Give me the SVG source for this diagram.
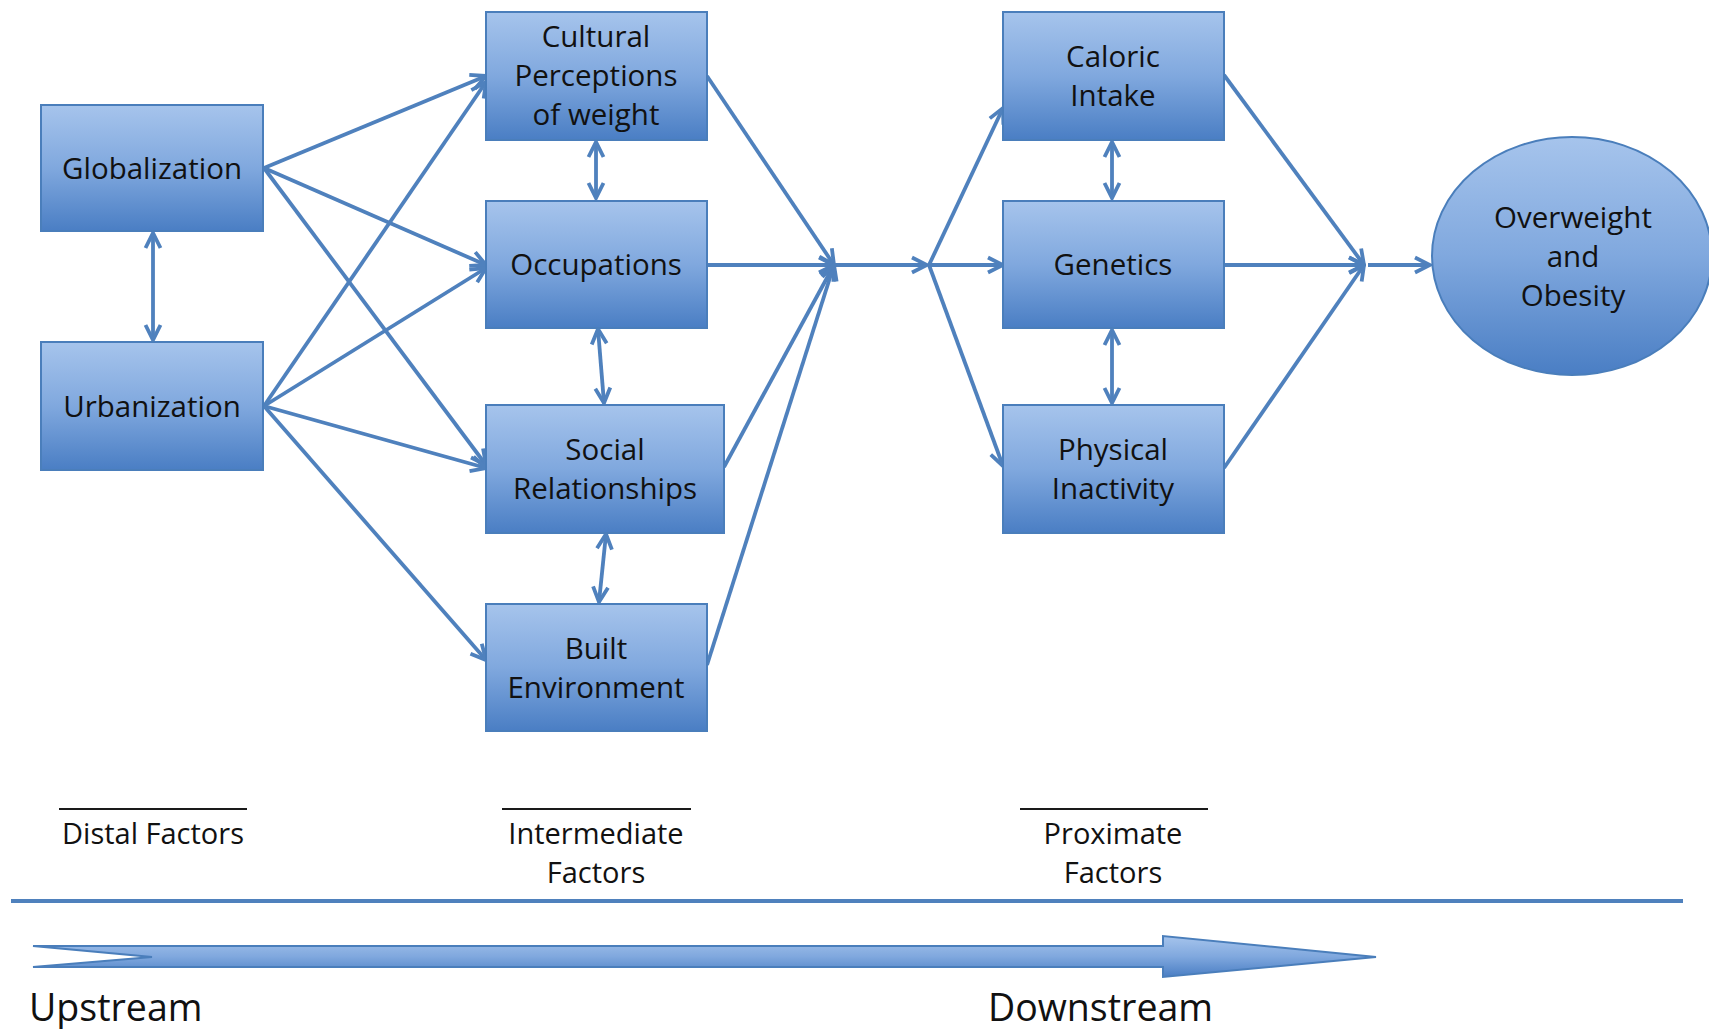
<svg xmlns="http://www.w3.org/2000/svg" width="1709" height="1029" viewBox="0 0 1709 1029">
<defs>
<linearGradient id="g" x1="0" y1="0" x2="0" y2="1">
<stop offset="0" stop-color="#a6c4ec"/>
<stop offset="0.5" stop-color="#80a8de"/>
<stop offset="1" stop-color="#4a7ec4"/>
</linearGradient>
<marker id="ah" viewBox="0 0 20 20" refX="18" refY="10" markerWidth="20" markerHeight="20" markerUnits="userSpaceOnUse" orient="auto-start-reverse">
<path d="M3,2.5 L18,10 L3,17.5" fill="none" stroke="#4f81bd" stroke-width="3.8"/>
</marker>
<style>
.box{fill:url(#g);stroke:#4a7ebb;stroke-width:2}
.t{font-family:"Open Sans","DejaVu Sans",sans-serif;font-size:29.5px;fill:#111;text-anchor:middle}
.lbl{font-family:"Open Sans","DejaVu Sans",sans-serif;font-size:29px;fill:#111;text-anchor:middle}
.big{font-family:"Open Sans","DejaVu Sans",sans-serif;font-size:37.5px;fill:#111}
.c{fill:none;stroke:#4f81bd;stroke-width:3.8;marker-end:url(#ah)}
.d{fill:none;stroke:#4f81bd;stroke-width:3.8;marker-end:url(#ah);marker-start:url(#ah)}
</style>
</defs>
<rect width="1709" height="1029" fill="#fff"/>

<g id="connectors">
<line class="d" x1="153" y1="233" x2="153" y2="340"/>
<line class="c" x1="264" y1="168" x2="486" y2="76"/>
<line class="c" x1="264" y1="168" x2="486" y2="265"/>
<line class="c" x1="264" y1="168" x2="486" y2="465"/>
<line class="c" x1="264" y1="406" x2="486" y2="82"/>
<line class="c" x1="264" y1="406" x2="486" y2="268"/>
<line class="c" x1="264" y1="406" x2="486" y2="468"/>
<line class="c" x1="264" y1="406" x2="486" y2="660"/>
<line class="d" x1="596" y1="142" x2="596" y2="198"/>
<line class="d" x1="598" y1="329" x2="604" y2="403"/>
<line class="d" x1="606" y1="534" x2="599" y2="602"/>
<line class="c" x1="707" y1="76" x2="834" y2="265"/>
<line class="c" x1="707" y1="265" x2="834" y2="265"/>
<line class="c" x1="724" y1="467" x2="834" y2="265"/>
<line class="c" x1="707" y1="665" x2="834" y2="265"/>
<line class="c" x1="834" y1="265" x2="927" y2="265"/>
<line class="c" x1="929" y1="265" x2="1003" y2="108"/>
<line class="c" x1="929" y1="265" x2="1003" y2="265"/>
<line class="c" x1="929" y1="265" x2="1003" y2="466"/>
<line class="d" x1="1112" y1="142" x2="1112" y2="198"/>
<line class="d" x1="1112" y1="330" x2="1112" y2="403"/>
<line class="c" x1="1224" y1="75" x2="1364" y2="265"/>
<line class="c" x1="1224" y1="265" x2="1364" y2="265"/>
<line class="c" x1="1224" y1="468" x2="1364" y2="265"/>
<line class="c" x1="1368" y1="265" x2="1430" y2="265"/>
</g>

<g id="globalization"><rect class="box" x="41" y="105" width="222" height="126"/><text class="t" x="152" y="179">Globalization</text></g>
<g id="urbanization"><rect class="box" x="41" y="342" width="222" height="128"/><text class="t" x="152" y="417">Urbanization</text></g>
<g id="cultural"><rect class="box" x="486" y="12" width="221" height="128"/><text class="t" x="596" y="47">Cultural</text><text class="t" x="596" y="86">Perceptions</text><text class="t" x="596" y="125">of weight</text></g>
<g id="occupations"><rect class="box" x="486" y="201" width="221" height="127"/><text class="t" x="596" y="275">Occupations</text></g>
<g id="social"><rect class="box" x="486" y="405" width="238" height="128"/><text class="t" x="605" y="460">Social</text><text class="t" x="605" y="499">Relationships</text></g>
<g id="built"><rect class="box" x="486" y="604" width="221" height="127"/><text class="t" x="596" y="659">Built</text><text class="t" x="596" y="698">Environment</text></g>
<g id="caloric"><rect class="box" x="1003" y="12" width="221" height="128"/><text class="t" x="1113" y="67">Caloric</text><text class="t" x="1113" y="106">Intake</text></g>
<g id="genetics"><rect class="box" x="1003" y="201" width="221" height="127"/><text class="t" x="1113" y="275">Genetics</text></g>
<g id="physical"><rect class="box" x="1003" y="405" width="221" height="128"/><text class="t" x="1113" y="460">Physical</text><text class="t" x="1113" y="499">Inactivity</text></g>
<g id="obesity"><ellipse class="box" cx="1572" cy="256" rx="140" ry="119"/><text class="t" x="1573" y="228">Overweight</text><text class="t" x="1573" y="267">and</text><text class="t" x="1573" y="306">Obesity</text></g>

<g id="legend">
<line x1="59" y1="809" x2="247" y2="809" stroke="#1a1a1a" stroke-width="2"/>
<line x1="502" y1="809" x2="691" y2="809" stroke="#1a1a1a" stroke-width="2"/>
<line x1="1020" y1="809" x2="1208" y2="809" stroke="#1a1a1a" stroke-width="2"/>
<text class="lbl" x="153" y="844">Distal Factors</text>
<text class="lbl" x="596" y="844">Intermediate</text>
<text class="lbl" x="596" y="883">Factors</text>
<text class="lbl" x="1113" y="844">Proximate</text>
<text class="lbl" x="1113" y="883">Factors</text>
<line x1="11" y1="901" x2="1683" y2="901" stroke="#4f81bd" stroke-width="4"/>
<polygon points="33,946 1163,946 1163,936 1376,957 1163,977 1163,967 33,967 152,957" fill="url(#g)" stroke="#4a7ebb" stroke-width="2"/>
<text class="big" x="29" y="1021">Upstream</text>
<text class="big" x="988" y="1021">Downstream</text>
</g>
</svg>
